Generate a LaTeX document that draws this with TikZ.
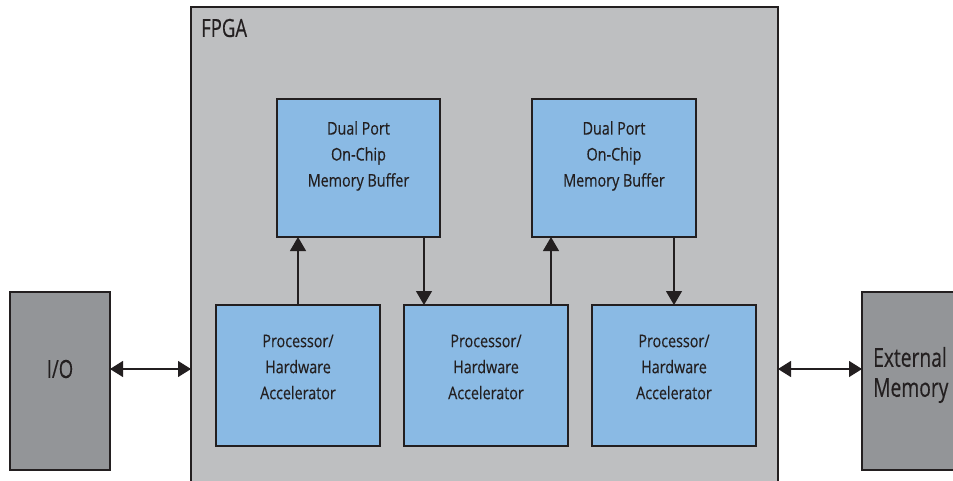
\documentclass[tikz,border=0pt]{standalone}
\usepackage{fontspec}
\setmainfont{Open Sans}[FakeStretch=0.82,FakeBold=0.35]
\newfontfamily\narrowfont{Open Sans}[FakeStretch=0.74,FakeBold=0.35]
\usetikzlibrary{arrows.meta}
\definecolor{fpgagray}{HTML}{BEBFC1}
\definecolor{iogray}{HTML}{939598}
\definecolor{blk}{HTML}{8ABAE4}
\definecolor{edge}{HTML}{231F20}
\tikzset{
  fpgabox/.style={draw=edge, line width=1.3pt, fill=fpgagray, rectangle, inner sep=0pt, outer sep=0pt},
  iobox/.style={draw=edge, line width=1.3pt, fill=iogray, rectangle, inner sep=0pt, outer sep=0pt},
  bluebox/.style={draw=edge, line width=1.3pt, fill=blk, rectangle, inner sep=0pt, outer sep=0pt, minimum height=141pt},
  lbl/.style={align=center, inner sep=0pt, text=edge, font=\fontsize{17.5pt}{26pt}\selectfont},
  big/.style={inner sep=0pt, text=edge, font=\narrowfont\fontsize{25pt}{30pt}\selectfont},
  arr/.style={draw=edge, line width=1.2pt, -{Triangle[length=14pt,width=16pt]}},
  darr/.style={draw=edge, line width=1.2pt, {Triangle[length=13pt,width=16pt]}-{Triangle[length=13pt,width=16pt]}},
}
\begin{document}
\begin{tikzpicture}[x=1pt,y=-1pt]
\clip (0,0) rectangle (953,480);
\fill[white] (0,0) rectangle (953,480);
% containers
\node[fpgabox, minimum width=587pt, minimum height=490pt, anchor=north west] (fpga) at (191,7) {};
\node[iobox, minimum width=100pt, minimum height=178pt, anchor=north west] (io) at (10,292) {};
\node[iobox, minimum width=120pt, minimum height=178pt, anchor=north west] (ext) at (862,292) {};
% buffers
\node[bluebox, minimum width=163pt, minimum height=138pt, anchor=north west] (b1) at (277,99) {};
\node[bluebox, minimum width=164pt, minimum height=138pt, anchor=north west] (b2) at (532,99) {};
% processors
\node[bluebox, minimum width=164pt, anchor=north west] (p1) at (216,305) {};
\node[bluebox, minimum width=164pt, anchor=north west] (p2) at (404,305) {};
\node[bluebox, minimum width=164pt, anchor=north west] (p3) at (592,305) {};
% labels
\node[big, anchor=west] (tfpga) at (201,28) {FPGA};
\node[big] (tio) at (60,369) {I/O};
\node[big, align=left, anchor=west, font=\narrowfont\fontsize{26pt}{30pt}\selectfont] (text) at (873,375) {External\\Memory};
\node[lbl] (tb1) at (358.5,156) {Dual Port\\On-Chip\\Memory Buffer};
\node[lbl] (tb2) at (614,156) {Dual Port\\On-Chip\\Memory Buffer};
\node[lbl] (tp1) at (298,367) {Processor/\\Hardware\\Accelerator};
\node[lbl] (tp2) at (486,367) {Processor/\\Hardware\\Accelerator};
\node[lbl] (tp3) at (674,367) {Processor/\\Hardware\\Accelerator};
% connection points
\coordinate (ioport) at ([yshift=12pt]io.east);
\coordinate (extport) at ([yshift=12pt]ext.west);
% arrows
\draw[arr] (p1.north) -- (p1.north |- b1.south);
\draw[arr] ([xshift=-16pt]b1.south east) -- ([xshift=20pt]p2.north west);
\draw[arr] ([xshift=-17pt]p2.north east) -- ([xshift=19pt]b2.south west);
\draw[arr] (p3.north |- b2.south) -- (p3.north);
\draw[darr] (ioport) -- (fpga.west |- ioport);
\draw[darr] (fpga.east |- extport) -- (extport);
\end{tikzpicture}
\end{document}
